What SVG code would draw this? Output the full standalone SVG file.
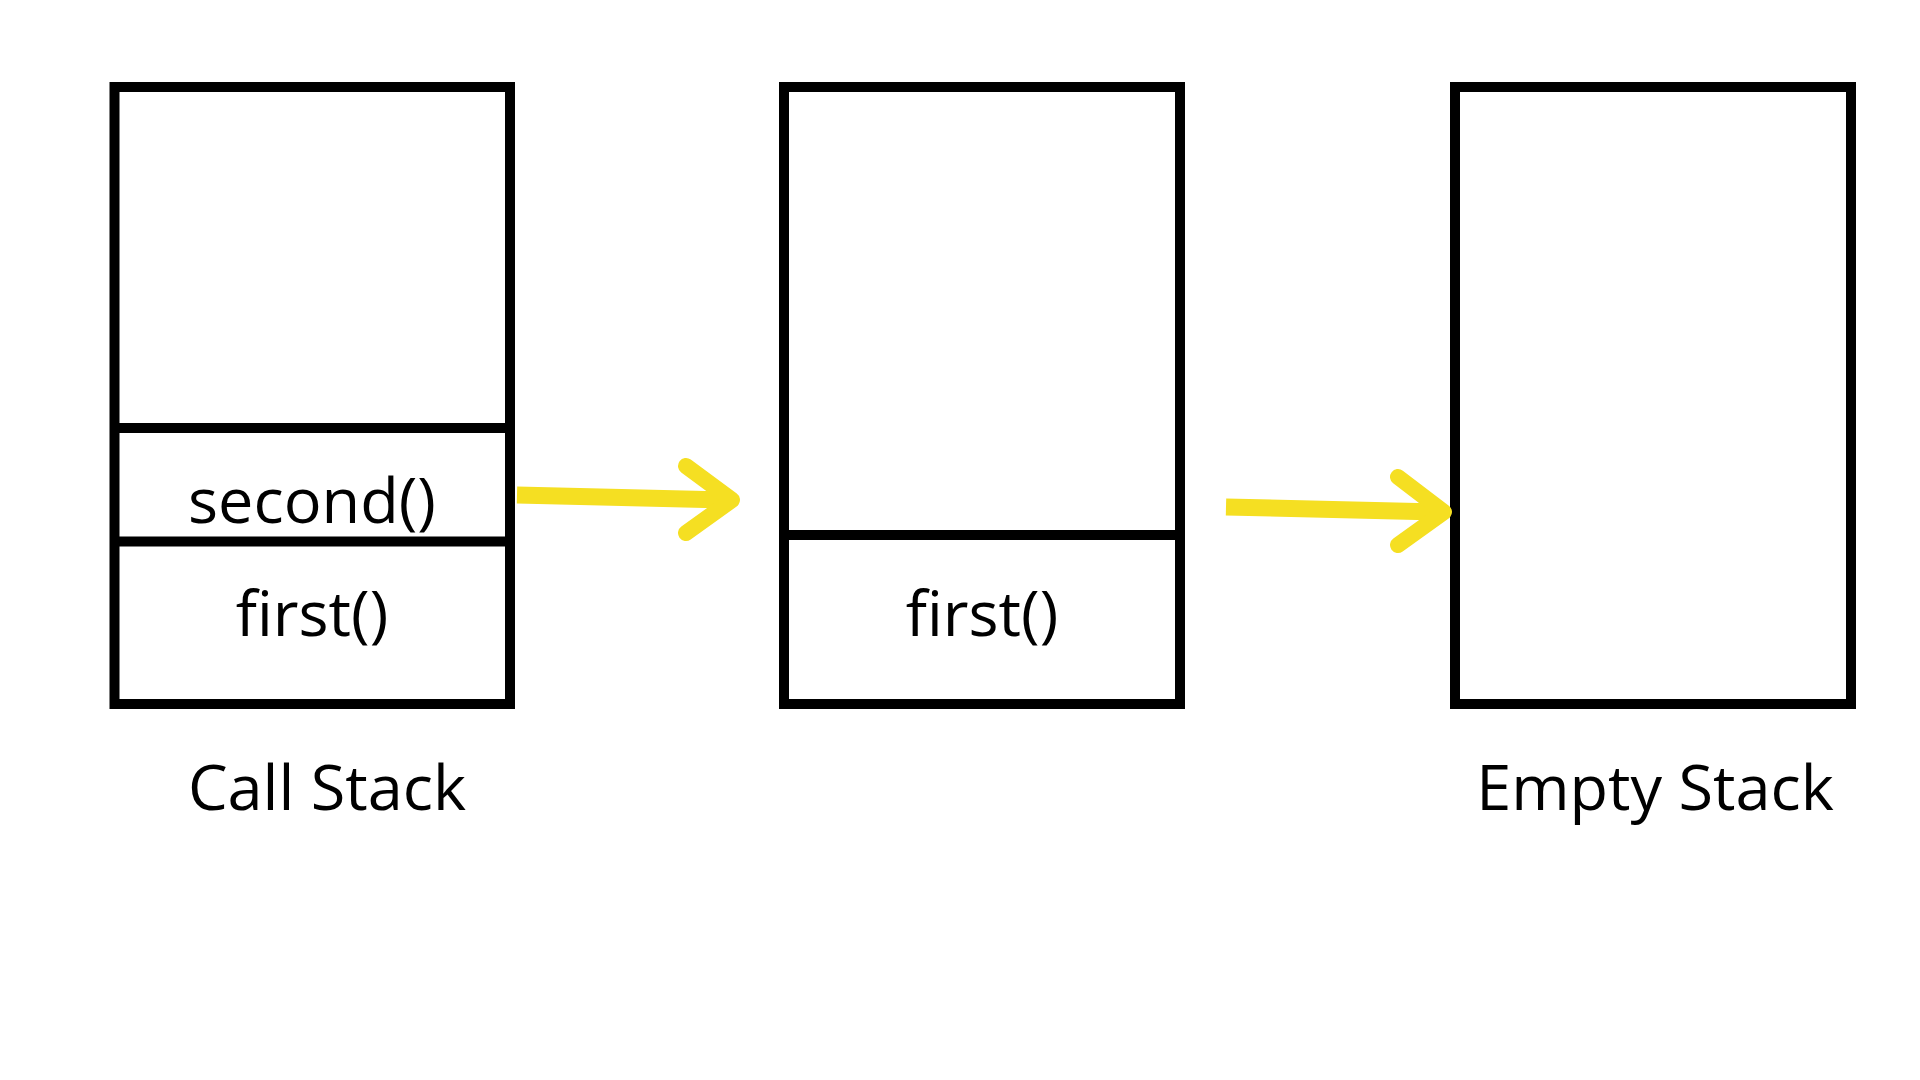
<svg xmlns="http://www.w3.org/2000/svg" width="1920" height="1080" viewBox="0 0 1920 1080">
<style>
.box{fill:none;stroke:#000;stroke-width:10}
.ln{stroke:#000;stroke-width:10}
.t{font-family:"Open Sans","Liberation Sans",sans-serif;font-size:63px;fill:#000;text-anchor:middle}
.sh{stroke:#F5DF22;stroke-width:17;fill:none}
.hd{stroke:#F5DF22;stroke-width:16;fill:none;stroke-linecap:round;stroke-linejoin:round}
</style>
<rect width="1920" height="1080" fill="#fff"/>
<g id="stack1">
<rect class="box" x="114.5" y="87" width="395.5" height="617"/>
<line class="ln" x1="114.5" y1="428" x2="510" y2="428"/>
<line class="ln" x1="114.5" y1="541.5" x2="510" y2="541.5"/>
<text class="t" x="312" y="523">second()</text>
<text class="t" x="312" y="636">first()</text>
<text class="t" x="327" y="810">Call Stack</text>
</g>
<g id="stack2">
<rect class="box" x="784" y="87" width="396" height="617"/>
<line class="ln" x1="779" y1="535" x2="1185" y2="535"/>
<text class="t" x="982" y="636">first()</text>
</g>
<g id="stack3">
<rect class="box" x="1455" y="87" width="396" height="617"/>
<text class="t" x="1655" y="810">Empty Stack</text>
</g>
<g id="connectors">
<line class="sh" x1="517" y1="495" x2="726" y2="500"/>
<polyline class="hd" points="686,466 732,500 686,533"/>
<line class="sh" x1="1226" y1="507" x2="1438" y2="512"/>
<polyline class="hd" points="1398,477 1444,512 1398,545"/>
</g>
</svg>
